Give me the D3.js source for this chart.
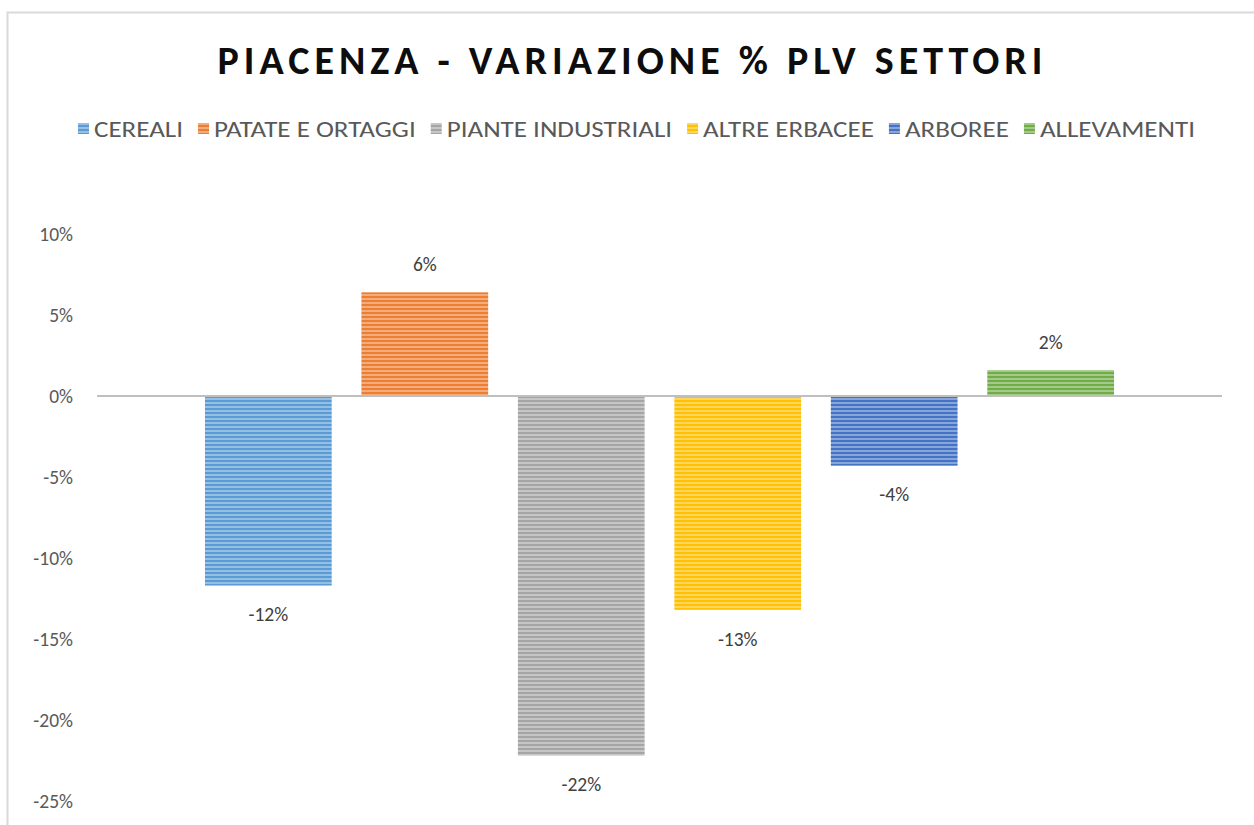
<!DOCTYPE html>
<html lang="it">
<head>
    <meta charset="UTF-8">
    <script src="https://d3js.org/d3.v7.min.js"></script>
    <title>Piacenza - variazione % PLV settori</title>
    <style>
        body {
            margin: 0;
            padding: 0;
            background: #fff;
        }
        svg {
            display: block;
        }
    </style>
</head>
<body>
<script>

    // data
    var settori = ['CEREALI', 'PATATE E ORTAGGI', 'PIANTE INDUSTRIALI', 'ALTRE ERBACEE', 'ARBOREE', 'ALLEVAMENTI']
    var variazione = [-11.7, 6.4, -22.2, -13.2, -4.3, 1.6]
    var colori = ['#5b9bd5', '#ed7d31', '#a5a5a5', '#ffc000', '#4472c4', '#70ad47']
    var yTicks = [10, 5, 0, -5, -10, -15, -20, -25]

    var W = 1254, H = 825
    var font = 'Calibri, Carlito, Lato, sans-serif'

    var svg = d3.select('body').append('svg')
        .attr('width', W)
        .attr('height', H)

    // chart frame (only top and left edges are in view)
    svg.append('path')
        .attr('d', 'M7.5,' + H + 'V12.5H' + W)
        .attr('fill', 'none')
        .attr('stroke', '#d9d9d9')
        .attr('stroke-width', 2)

    // striped fills, one per series
    var defs = svg.append('defs')
    colori.forEach(function (c, i) {
        var p = defs.append('pattern')
            .attr('id', 'stripe' + i)
            .attr('patternUnits', 'userSpaceOnUse')
            .attr('width', 8)
            .attr('height', 4)
        p.append('rect').attr('width', 8).attr('height', 4).attr('fill', c)
        p.append('rect').attr('y', 2.2).attr('width', 8).attr('height', 1.6)
            .attr('fill', d3.interpolateRgb(c, '#fff')(0.45))
    })

    // title
    svg.append('text')
        .attr('x', 630)
        .attr('y', 74)
        .attr('text-anchor', 'middle')
        .attr('font-family', font)
        .attr('font-weight', 'bold')
        .attr('font-size', 40)
        .attr('fill', '#0d0d0d')
        .attr('textLength', 825)
        .attr('lengthAdjust', 'spacing')
        .text('PIACENZA - VARIAZIONE % PLV SETTORI')

    // legend, sized to span the same width as the original
    var legend = svg.append('g')
    var items = []
    settori.forEach(function (s, i) {
        var g = legend.append('g')
        g.append('rect')
            .attr('x', 0).attr('y', -14)
            .attr('width', 11).attr('height', 11)
            .attr('fill', 'url(#stripe' + i + ')')
        var t = g.append('text')
            .attr('x', 16)
            .attr('y', 0)
            .attr('font-family', font)
            .attr('font-size', 22.5)
            .attr('fill', '#595959')
            .text(s)
        items.push({ g: g, t: t })
    })
    var natural = d3.sum(items, function (d) { return d.t.node().getComputedTextLength() })
    var space = 1117 - 6 * 16 - 5 * 15
    var lx = 0
    items.forEach(function (d) {
        var w = d.t.node().getComputedTextLength() * space / natural
        d.t.attr('textLength', w).attr('lengthAdjust', 'spacingAndGlyphs')
        d.g.attr('transform', 'translate(' + lx + ',0)')
        lx += 16 + w + 15
    })
    legend.attr('transform', 'translate(78,137)')

    // scales
    var y = d3.scaleLinear().domain([-25, 10]).range([801, 234])
    var x = d3.scaleBand().domain(settori).range([97, 1222])
        .paddingInner(0.19).paddingOuter(0.69)

    // y labels
    svg.append('g').selectAll('text')
        .data(yTicks)
        .enter()
        .append('text')
        .attr('x', 73)
        .attr('y', function (d) { return y(d) })
        .attr('dy', '0.35em')
        .attr('text-anchor', 'end')
        .attr('font-family', font)
        .attr('font-size', 19.5)
        .attr('fill', '#595959')
        .text(function (d) { return d + '%' })

    // bars
    svg.append('g').selectAll('rect')
        .data(variazione)
        .enter()
        .append('rect')
        .attr('x', function (d, i) { return x(settori[i]) })
        .attr('width', x.bandwidth())
        .attr('y', function (d) { return y(Math.max(0, d)) })
        .attr('height', function (d) { return Math.abs(y(d) - y(0)) })
        .attr('fill', function (d, i) { return 'url(#stripe' + i + ')' })

    // zero line
    svg.append('line')
        .attr('x1', 97).attr('x2', 1222)
        .attr('y1', y(0)).attr('y2', y(0))
        .attr('stroke', '#bfbfbf')
        .attr('stroke-width', 2)

    // data labels
    svg.append('g').selectAll('text')
        .data(variazione)
        .enter()
        .append('text')
        .attr('x', function (d, i) { return x(settori[i]) + x.bandwidth() / 2 })
        .attr('y', function (d) { return d < 0 ? y(d) + 29 : y(d) - 28 })
        .attr('dy', '0.35em')
        .attr('text-anchor', 'middle')
        .attr('font-family', font)
        .attr('font-size', 19.5)
        .attr('fill', '#404040')
        .text(function (d) { return Math.round(d) + '%' })

</script>
</body>
</html>
